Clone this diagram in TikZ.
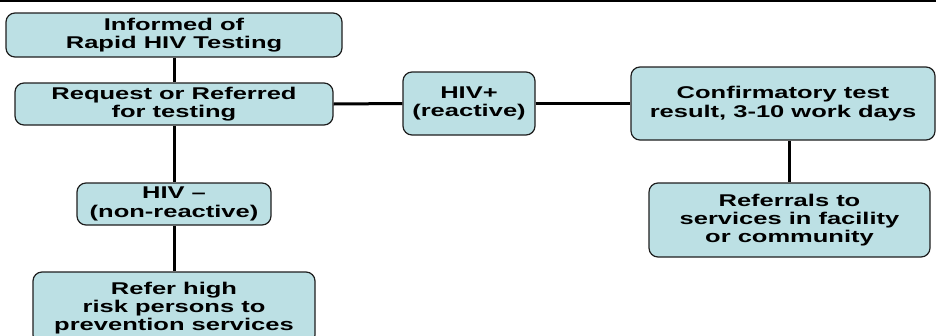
\documentclass[tikz,border=0pt]{standalone}
\usepackage{fontspec}
\setmainfont{Liberation Sans}[FakeStretch=1.5]
\definecolor{boxfill}{RGB}{188,224,228}
\definecolor{boxline}{RGB}{30,30,30}
\begin{document}
\begin{tikzpicture}[x=1pt,y=-1pt,
  box/.style={draw=boxline, line width=1.2pt, fill=boxfill, rounded corners=9pt,
    align=center, inner sep=0pt,
    font=\bfseries\fontsize{17}{18.3}\selectfont},
  conn/.style={line width=3pt}]
\clip (0,0) rectangle (936,335);
\coordinate (tl) at (0,1);
\coordinate (tr) at (936,1);
\draw[line width=2.5pt] (tl) -- (tr);

\node[box, minimum width=336pt, minimum height=44pt] (A) at (174,35) {Informed of\\Rapid HIV Testing};
\node[box, minimum width=318pt, minimum height=42pt] (B) at (174,104) {Request or Referred\\for testing};
\node[box, minimum width=132pt, minimum height=63pt] (C) at (469,103.5) {HIV+\\(reactive)};
\node[box, minimum width=304pt, minimum height=73pt] (D) at (783,103.5) {Confirmatory test\\result, 3-10 work days};
\node[box, minimum width=281pt, minimum height=74pt] (E) at (789.5,220) {Referrals to\\services in facility\\or community};
\node[box, minimum width=194pt, minimum height=42pt] (F) at (174,204) {HIV –\\(non-reactive)};
\node[box, minimum width=282pt, minimum height=72pt] (G) at (174,308) {Refer high\\risk persons to\\prevention services};

\draw[conn] (A.south) -- (B.north);
\draw[conn] (B.south) -- (F.north);
\draw[conn] (F.south) -- (G.north);
\draw[conn] (B.east) -- (C.west);
\draw[conn] (C.east) -- (D.west);
\draw[conn] (E.north) -- (E.north |- D.south);
\end{tikzpicture}
\end{document}
